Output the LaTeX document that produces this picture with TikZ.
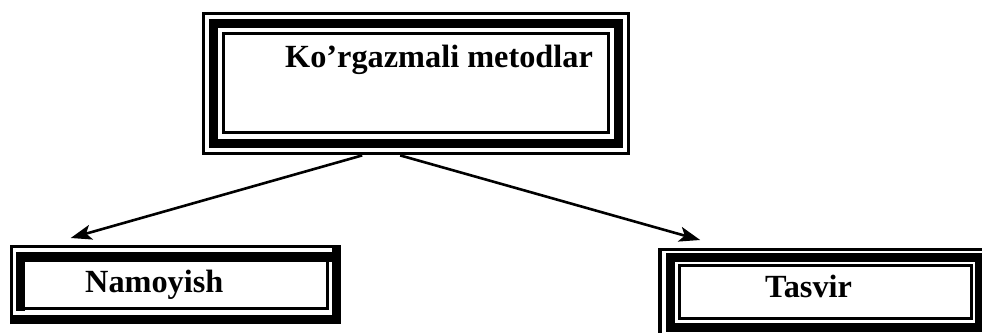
\documentclass[tikz,border=0pt]{standalone}
\usepackage{fontspec}
\setmainfont{Liberation Serif}
\usetikzlibrary{arrows.meta}
\tikzset{
  lbl/.style={font=\fontsize{32.3}{36}\bfseries\selectfont, anchor=base west, inner sep=0pt},
  boxarea/.style={rectangle, inner sep=0pt, draw=none},
  thinline/.style={line width=3.4pt},
  thickline/.style={line width=9.5pt},
  arr/.style={line width=2.6pt, -{Stealth[length=21pt,width=15pt,inset=5pt]}},
}
\begin{document}
\begin{tikzpicture}[x=1pt,y=-1pt]
\useasboundingbox (0,0) rectangle (982,332);
\clip (0,0) rectangle (982,332);
% areas (named nodes)
\node[boxarea, minimum width=428pt, minimum height=143pt, anchor=north west] (top) at (202,12) {};
\node[boxarea, minimum width=331pt, minimum height=79pt, anchor=north west] (left) at (10,245) {};
\node[boxarea, minimum width=330pt, minimum height=90pt, anchor=north west] (right) at (658,248) {};
% top frame: thin - thick - thin
\draw[thinline]  (203.7,13.7) rectangle (628.3,153.3);
\draw[thickline] (213.5,23.5) rectangle (618.5,143.5);
\draw[thinline]  (223.5,33.5) rectangle (608.5,132.5);
% left frame: outer thin top/left + thick bottom/right; inner thick top/left + thin bottom/right
\draw[line width=3.4pt] (11.7,324) -- (11.7,246.7) -- (341,246.7);
\draw[line width=9.5pt] (10,319.3) -- (336.3,319.3) -- (336.3,245);
\draw[line width=9.5pt] (20.5,310.5) -- (20.5,257) -- (331.5,257);
\draw[line width=3.4pt] (16,308.5) -- (327.7,308.5) -- (327.7,252);
% right frame
\draw[thinline]  (660,249.7) rectangle (990,340);
\draw[thickline] (670.5,257.7) rectangle (979.3,327.5);
\draw[thinline]  (679.2,265.7) rectangle (971.3,318.5);
% texts
\node[lbl] (t1) at (285,67) {Ko’rgazmali metodlar};
\node[lbl] (t2) at (85,292) {Namoyish};
\node[lbl] (t3) at (765,297) {Tasvir};
% arrows
\draw[arr] ([xshift=-54pt]top.south) -- ([xshift=-105pt,yshift=7pt]left.north);
\draw[arr] ([xshift=-16pt]top.south) -- ([xshift=-123pt,yshift=8pt]right.north);
\end{tikzpicture}
\end{document}
